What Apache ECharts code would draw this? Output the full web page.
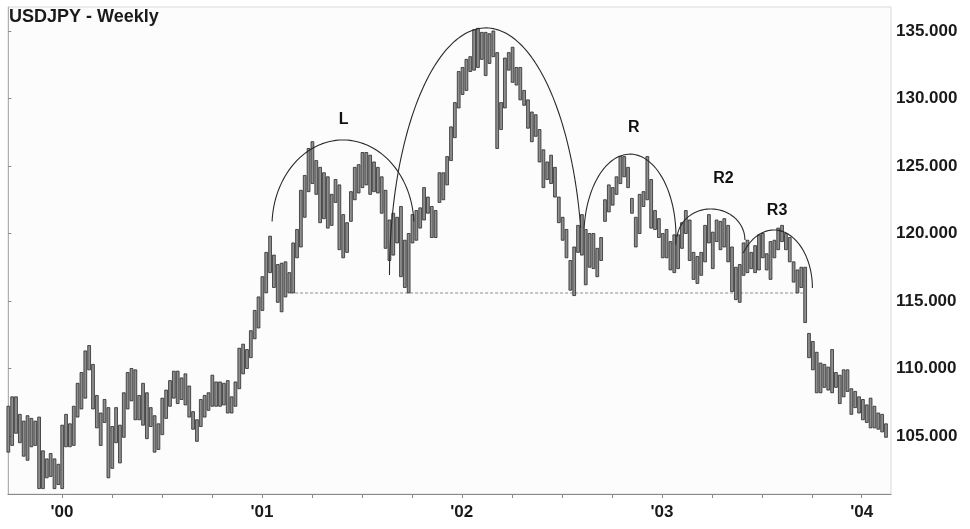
<!DOCTYPE html>
<html>
<head>
<meta charset="utf-8">
<script src="https://cdn.jsdelivr.net/npm/echarts@6/dist/echarts.min.js"></script>
<style>html,body{margin:0;padding:0;background:#fff}#c{width:970px;height:529px}</style>
</head>
<body>
<div id="c"></div>
<script>
// Weekly USDJPY bars (high / low), week index 0..228
const weeklyHigh = [
107.2,107.9,107.9,106.6,106.1,106.5,106.3,106.1,106.4,103.9,
103.3,103.7,103.3,102.9,105.8,106.6,105.9,107.2,108.9,109.7,
111.3,111.7,110.3,108.0,106.7,107.7,107.1,105.7,107.1,105.8,
108.2,109.7,110.0,109.9,108.0,108.9,108.2,107.1,106.5,105.9,
107.8,108.4,109.1,109.8,109.8,109.3,109.6,108.7,106.8,106.2,
107.7,108.0,108.2,109.5,109.0,109.0,108.9,109.1,107.9,109.0,
111.5,111.8,111.4,112.8,114.3,115.3,116.8,118.6,119.8,118.4,
117.7,117.8,117.9,117.1,119.3,120.3,123.2,124.3,126.3,126.8,
125.4,124.9,124.5,124.2,122.9,124.0,123.6,121.4,120.8,123.1,
124.9,125.1,126.0,126.0,125.8,125.3,124.9,124.2,123.2,121.0,
121.5,121.2,122.0,119.5,120.0,121.4,121.7,121.9,123.4,122.7,
122.0,121.7,124.5,124.5,125.7,127.9,129.7,132.0,132.3,132.9,
133.1,135.1,135.2,134.9,134.9,134.8,135.0,133.4,129.7,133.0,
133.4,133.8,132.3,132.3,130.6,129.9,129.0,128.8,127.7,126.2,
125.3,125.8,124.9,122.7,121.2,120.3,118.0,119.0,120.6,121.4,
120.3,120.0,120.0,118.9,119.7,122.5,123.6,123.4,124.2,125.7,
125.7,124.9,122.6,121.2,122.9,123.1,125.7,124.0,121.7,121.1,
120.0,120.3,119.4,119.9,119.9,120.8,121.7,121.0,118.6,118.3,
118.6,120.6,121.4,120.1,121.0,120.9,121.1,120.6,119.0,117.5,
117.7,119.3,119.5,118.6,119.1,119.9,120.0,118.5,119.4,119.5,
120.4,120.6,120.0,119.7,117.9,117.3,117.5,117.5,112.6,112.0,
111.2,110.4,110.3,110.1,111.4,109.7,109.5,109.9,109.9,108.5,
108.3,107.9,107.7,107.3,107.8,107.2,106.7,106.6,105.9
];
const weeklyLow = [
103.8,104.3,105.2,104.5,103.5,103.2,104.2,104.3,101.1,101.1,
101.9,102.0,101.1,101.4,101.1,104.2,104.2,104.3,106.4,107.0,
107.8,109.9,107.0,105.6,104.3,106.0,101.9,102.6,104.5,103.0,
104.9,107.0,107.6,106.2,106.2,105.8,104.8,105.7,103.8,104.0,
105.1,106.3,107.2,107.8,107.4,107.7,107.3,106.4,105.5,104.6,
105.7,106.4,106.9,107.2,107.2,107.2,107.3,106.7,106.7,107.2,
108.5,109.6,110.0,110.8,112.2,113.0,114.3,115.6,117.1,116.0,
114.9,114.2,115.3,115.6,115.6,118.2,119.0,121.2,123.1,123.7,
122.9,120.8,121.1,120.4,120.6,122.3,118.8,118.2,118.6,120.9,
122.5,123.0,123.4,123.6,122.9,123.1,123.0,121.5,118.9,118.0,
118.4,119.3,116.8,116.0,115.6,119.3,119.5,120.4,121.0,121.5,
119.7,119.7,122.3,122.5,123.6,125.4,127.1,129.3,130.3,130.6,
132.0,132.1,132.3,132.9,131.7,132.6,133.1,126.3,127.7,129.3,
132.1,131.2,131.0,129.9,129.5,127.8,126.8,127.2,125.3,123.4,
124.0,123.7,122.7,120.8,119.5,118.2,115.8,115.4,118.6,118.4,
116.2,117.5,117.4,116.8,118.0,120.9,121.6,122.1,122.9,123.7,
124.2,123.4,121.5,119.0,120.0,122.0,122.5,120.4,120.3,119.7,
118.2,118.2,117.3,117.1,117.4,118.9,120.0,118.0,116.6,116.3,
116.9,117.9,119.3,117.4,119.4,118.8,119.0,117.9,115.7,115.1,
114.9,116.9,117.1,117.4,117.1,117.3,118.2,117.3,116.6,118.2,
118.8,119.4,118.8,117.9,116.4,115.6,116.0,113.4,110.8,109.9,
108.2,108.2,108.6,108.4,108.2,108.6,107.4,107.9,108.3,106.6,
107.1,106.7,106.2,106.0,105.6,105.6,105.5,105.3,104.9
];

// Price axis tick labels
const priceTicks = [105, 110, 115, 120, 125, 130, 135];
// Time axis: positions (in week index) of quarter ticks and year labels
const quarterTicks = [13.95,26.94,39.92,52.9,65.9,78.86,91.9,104.9,117.8,130.8,143.8,156.8,169.8,182.8,195.8,208.8,221.7];
const yearTicks = [13.95, 65.9, 117.8, 169.8, 221.7];
const yearLabels = ["'00", "'01", "'02", "'03", "'04"];

// Support line (neckline) level and span
const necklineLevel = 115.59;
const necklineSpan = [73.2, 206.9];

// Rounded tops annotations: centre (week, price), half-width (weeks), height (price), drawn angles (deg)
const arcNames = ['L', 'H', 'R', 'R2', 'R3'];
const arcCx = [86.94, 124.08, 161.48, 182.52, 198.88];
const arcCy = [120.56, 116.93, 119.81, 119.52, 115.96];
const arcRx = [18.44, 25.06, 11.95, 8.83, 10.0];
const arcRy = [6.37, 18.30, 6.07, 2.30, 4.30];
const arcFrom = [3, 11, -6, 0, 0];
const arcTo = [177, 180, 175, 174, 143];

// Pattern labels
const tagNames = ['L', 'R', 'R2', 'R3'];
const tagWeek = [87.1, 162.5, 185.8, 199.7];
const tagPrice = [128.41, 127.85, 124.04, 121.67];

const barData = weeklyHigh.map((h, i) => [i, h, weeklyLow[i]]);

const FONT = '"Liberation Sans", Arial, Helvetica, sans-serif';

const arcSeries = arcNames.map((n, k) => {
  const pts = [];
  const steps = 120;
  for (let s = 0; s <= steps; s++) {
    const t = (arcFrom[k] + (arcTo[k] - arcFrom[k]) * s / steps) * Math.PI / 180;
    pts.push([arcCx[k] + arcRx[k] * Math.cos(t), arcCy[k] + arcRy[k] * Math.sin(t)]);
  }
  return {
    type: 'line', name: 'arc' + n, data: pts, showSymbol: false, symbol: 'none',
    silent: true, z: 5,
    lineStyle: { color: '#2a2a2a', width: 1.1 }
  };
});

const chart = echarts.init(document.getElementById('c'), null, { renderer: 'canvas' });
chart.setOption({
  animation: false,
  backgroundColor: '#ffffff',
  title: {
    text: 'USDJPY - Weekly', left: 9, top: 8, padding: 0,
    textStyle: { fontFamily: FONT, fontSize: 18, fontWeight: 'bold', color: '#1a1a1a' }
  },
  grid: {
    left: 8, top: 7, width: 883, height: 487,
    show: true, borderColor: '#d9d9d9', borderWidth: 1, backgroundColor: '#fcfcfc'
  },
  xAxis: {
    type: 'value', min: -0.08, max: 229.3,
    splitLine: { show: false },
    axisLine: { show: true, onZero: false, lineStyle: { color: '#8a8a8a', width: 1.2 } },
    axisTick: { show: true, customValues: quarterTicks, length: 4, lineStyle: { color: '#8a8a8a' } },
    axisLabel: {
      show: true, customValues: yearTicks, margin: 10,
      fontFamily: FONT, fontSize: 17, fontWeight: 'bold', color: '#1a1a1a',
      formatter: v => { const k = yearTicks.findIndex(t => Math.abs(t - v) < 0.01); return k >= 0 ? yearLabels[k] : ''; }
    }
  },
  yAxis: {
    type: 'value', position: 'right', min: 100.70, max: 136.78,
    splitLine: { show: false },
    axisLine: { show: true, lineStyle: { color: '#b0b0b0', width: 1 } },
    axisTick: { show: true, customValues: priceTicks, length: 3, lineStyle: { color: '#8a8a8a' } },
    axisLabel: {
      show: true, customValues: priceTicks, margin: 5,
      fontFamily: FONT, fontSize: 17, fontWeight: 'bold', color: '#1a1a1a',
      formatter: v => v.toFixed(3)
    }
  },
  series: [
    {
      type: 'custom', name: 'USDJPY', data: barData, z: 3,
      encode: { x: 0, y: [1, 2] },
      renderItem: (params, api) => {
        const x = api.value(0);
        const top = api.coord([x, api.value(1)]);
        const bot = api.coord([x, api.value(2)]);
        return {
          type: 'rect',
          shape: { x: top[0] - 1.4, y: top[1], width: 2.8, height: bot[1] - top[1] },
          style: { fill: '#8f8f8f', stroke: '#2a2a2a', lineWidth: 0.8 }
        };
      }
    },
    {
      type: 'line', name: 'neckline', silent: true, symbol: 'none', z: 2,
      data: [[necklineSpan[0], necklineLevel], [necklineSpan[1], necklineLevel]],
      lineStyle: { color: '#8c8c8c', width: 1.2, type: [3, 2] }
    },
    ...arcSeries,
    {
      type: 'scatter', name: 'tags', symbolSize: 1, silent: true, z: 6,
      itemStyle: { color: 'rgba(0,0,0,0)', opacity: 1 },
      data: tagNames.map((n, k) => ({ value: [tagWeek[k], tagPrice[k]], name: n })),
      label: {
        show: true, position: 'inside', formatter: p => p.name,
        fontFamily: FONT, fontSize: 16, fontWeight: 'bold', color: '#111111',
        textBorderWidth: 0, opacity: 1
      }
    }
  ]
});
</script>
</body>
</html>
